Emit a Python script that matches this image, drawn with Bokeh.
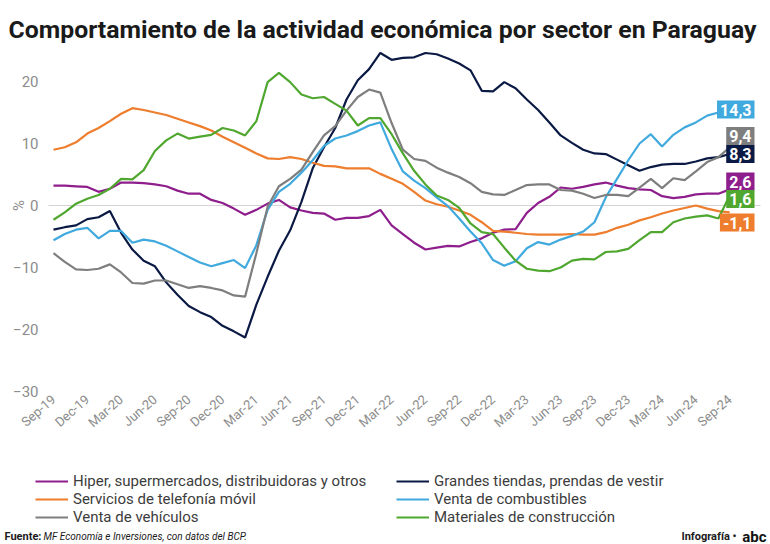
import math
from bokeh.plotting import figure
from bokeh.models import FixedTicker, Label, Legend, LegendItem, Range1d
from bokeh.embed import file_html
from bokeh.resources import INLINE

# ---------------- data (monthly, Sep-19 .. Sep-24) ----------------
tick_labels = ["Sep-19", "Dec-19", "Mar-20", "Jun-20", "Sep-20", "Dec-20", "Mar-21",
               "Jun-21", "Sep-21", "Dec-21", "Mar-22", "Jun-22", "Sep-22", "Dec-22",
               "Mar-23", "Jun-23", "Sep-23", "Dec-23", "Mar-24", "Jun-24", "Sep-24"]

hiper = [3.2, 3.2, 3.1, 3.0, 2.2, 2.7, 3.7, 3.7, 3.6, 3.4, 3.1, 2.4, 1.9, 1.9, 0.9, 0.4,
         -0.5, -1.5, -0.7, 0.3, 0.9, -0.3, -0.8, -1.2, -1.3, -2.3, -2.0, -2.0, -1.7, -0.7,
         -3.2, -4.6, -6.0, -7.1, -6.8, -6.5, -6.6, -5.9, -5.3, -4.4, -3.9, -3.8, -1.2, 0.4,
         1.4, 2.9, 2.7, 3.0, 3.4, 3.7, 3.2, 2.8, 2.6, 2.5, 1.5, 1.2, 1.4, 1.8, 1.9, 1.9, 2.6]

grandes = [-3.9, -3.5, -3.2, -2.2, -1.9, -0.9, -4.4, -7.1, -8.9, -9.8, -12.4, -14.4, -16.2,
           -17.2, -18.0, -19.4, -20.3, -21.3, -16.0, -11.5, -7.3, -4.0, 0.6, 6.0, 9.4, 12.5,
           17.1, 20.2, 22.0, 24.6, 23.5, 23.8, 23.9, 24.6, 24.4, 23.7, 22.9, 21.8, 18.5, 18.4,
           19.9, 18.9, 17.1, 15.4, 13.4, 11.3, 10.1, 9.0, 8.4, 8.3, 7.4, 6.5, 5.6, 6.2, 6.6,
           6.7, 6.7, 7.1, 7.6, 7.8, 8.3]

telefonia = [9.0, 9.4, 10.2, 11.6, 12.5, 13.6, 14.8, 15.7, 15.4, 15.0, 14.6, 14.0, 13.4,
             12.8, 12.1, 11.1, 10.2, 9.3, 8.4, 7.6, 7.5, 7.8, 7.5, 6.9, 6.4, 6.3, 6.0, 6.0,
             6.0, 5.1, 4.3, 3.5, 2.2, 0.8, 0.2, -0.2, -0.8, -1.5, -2.7, -4.1, -4.2, -4.4,
             -4.6, -4.7, -4.7, -4.7, -4.6, -4.7, -4.7, -4.3, -3.6, -3.1, -2.4, -1.9, -1.3,
             -0.8, -0.4, 0.0, -0.5, -0.9, -1.1]

combustibles = [-5.6, -4.6, -3.9, -3.6, -5.3, -4.1, -4.1, -6.0, -5.5, -5.8, -6.5, -7.4, -8.3,
                -9.2, -9.8, -9.3, -8.8, -10.1, -6.4, -0.7, 2.2, 3.5, 5.3, 7.3, 9.6, 10.8, 11.3,
                12.0, 12.9, 13.4, 9.1, 5.5, 4.0, 2.8, 1.3, -0.1, -2.1, -4.2, -6.1, -8.8, -9.7,
                -9.0, -6.9, -5.9, -6.3, -5.5, -4.9, -4.2, -2.7, 1.3, 4.3, 7.3, 10.0, 11.5, 9.5,
                11.4, 12.6, 13.4, 14.5, 15.0, 14.3]

vehiculos = [-7.7, -9.1, -10.3, -10.4, -10.2, -9.5, -10.8, -12.5, -12.6, -12.1, -12.1, -12.7,
             -13.3, -13.0, -13.3, -13.7, -14.5, -14.7, -7.7, -0.2, 3.1, 4.3, 5.8, 8.6, 11.3,
             12.8, 15.3, 17.5, 18.7, 18.2, 13.3, 9.0, 7.5, 7.2, 6.1, 5.3, 4.6, 3.6, 2.2, 1.8,
             1.7, 2.5, 3.3, 3.4, 3.4, 2.5, 2.4, 1.9, 1.2, 1.7, 1.7, 1.5, 2.9, 4.3, 2.8, 4.4,
             4.1, 5.5, 7.0, 7.8, 9.4]

construccion = [-2.3, -1.1, 0.3, 1.1, 1.7, 2.7, 4.3, 4.2, 5.7, 8.8, 10.5, 11.6, 10.8, 11.1,
                11.4, 12.5, 12.1, 11.3, 13.6, 19.9, 21.4, 19.9, 17.9, 17.3, 17.5, 16.4, 15.3,
                12.9, 14.1, 14.1, 11.5, 8.4, 5.6, 3.4, 1.6, 0.9, -0.4, -2.9, -4.3, -4.6, -6.8,
                -8.9, -10.2, -10.5, -10.6, -10.0, -8.9, -8.6, -8.7, -7.5, -7.4, -7.0, -5.6,
                -4.3, -4.3, -2.7, -2.1, -1.8, -1.6, -2.1, 1.6]

series_names = ["Hiper, supermercados, distribuidoras y otros",
                "Grandes tiendas, prendas de vestir",
                "Servicios de telefonía móvil",
                "Venta de combustibles",
                "Venta de vehículos",
                "Materiales de construcción"]
series_values = [hiper, grandes, telefonia, combustibles, vehiculos, construccion]
series_colors = ["#8e1e8c", "#0b1a44", "#ee7d2d", "#40a9de", "#7e7e7e", "#4fa72f"]

end_labels = ["2,6", "8,3", "-1,1", "14,3", "9,4", "1,6"]

y_ticks = [-30, -20, -10, 0, 10, 20]

# ---------------- layout helpers (canvas pixel -> axis units) ----------------
W, H = 770, 544
PX_MONTH, PX_UNIT = 11.27, 6.2
X0_PX, Y0_PX = 53, 205          # pixel of first month / of value 0


def dx(px):
    return (px - X0_PX) / PX_MONTH


def dy(py):
    return (Y0_PX - py) / PX_UNIT


# vertical centre of each end-value box (pixels)
end_label_py = [181, 153.5, 222, 109, 135.5, 198.5]

p = figure(width=W, height=H, output_backend="svg", toolbar_location=None,
           x_range=Range1d(dx(0), dx(W)), y_range=Range1d(dy(H), dy(0)),
           min_border_left=0, min_border_right=0, min_border_top=0, min_border_bottom=0)
p.title.visible = False
p.outline_line_color = None
p.grid.visible = False
p.background_fill_color = "white"
p.border_fill_color = "white"

FONT = "Roboto"

# y axis (drawn at fixed position, labels to its left)
p.yaxis.fixed_location = dx(48)
p.yaxis.ticker = FixedTicker(ticks=y_ticks)
p.yaxis.axis_line_color = None
p.yaxis.major_tick_line_color = None
p.yaxis.minor_tick_line_color = None
p.yaxis.major_tick_out = 0
p.yaxis.major_tick_in = 0
p.yaxis.minor_tick_out = 0
p.yaxis.major_label_standoff = 10
p.yaxis.major_label_text_font = FONT
p.yaxis.major_label_text_font_size = "15px"
p.yaxis.major_label_text_color = "#8c8c8c"

# x axis
tick_pos = [3 * k for k in range(len(tick_labels))]
p.xaxis.fixed_location = dy(395)
p.xaxis.ticker = FixedTicker(ticks=tick_pos)
p.xaxis.major_label_overrides = {t: lab for t, lab in zip(tick_pos, tick_labels)}
p.xaxis.major_label_orientation = 0.72
p.xaxis.axis_line_color = None
p.xaxis.major_tick_line_color = None
p.xaxis.minor_tick_line_color = None
p.xaxis.major_tick_out = 0
p.xaxis.major_tick_in = 0
p.xaxis.minor_tick_out = 0
p.xaxis.major_label_standoff = 2
p.xaxis.major_label_text_font = FONT
p.xaxis.major_label_text_font_size = "13px"
p.xaxis.major_label_text_color = "#8c8c8c"

# zero reference line
zl = p.segment(x0=[dx(48)], y0=[y_ticks[3]], x1=[dx(760)], y1=[y_ticks[3]],
               line_color="#d4d4d4", line_width=1.2)
zl.level = "underlay"

renderers = []
for vals, col in zip(series_values, series_colors):
    xs = list(range(len(vals)))
    r = p.line(xs, vals, line_color=col, line_width=2.2)
    renderers.append(r)

# end value boxes
for txt, py, col in zip(end_labels, end_label_py, series_colors):
    p.add_layout(Label(x=dx(754), y=dy(py), text=txt, text_align="right", text_baseline="middle",
                       text_color="white", text_font=FONT, text_font_style="bold",
                       text_font_size="16px", background_fill_color=col, padding=3))

# "%" axis label
p.add_layout(Label(x=dx(18), y=dy(205), text="%", angle=math.pi / 2, text_align="center",
                   text_baseline="middle", text_font=FONT, text_font_size="15px",
                   text_color="#8c8c8c"))


# legends (two columns)
def make_legend(idx, lx):
    items = [LegendItem(label=series_names[i], renderers=[renderers[i]]) for i in idx]
    leg = Legend(items=items, location=(lx, H - 526), orientation="vertical")
    leg.padding = 0
    leg.margin = 0
    leg.spacing = 0
    leg.glyph_width = 33
    leg.glyph_height = 18
    leg.label_height = 18
    leg.label_standoff = 5
    leg.label_text_font = FONT
    leg.label_text_font_size = "15px"
    leg.label_text_color = "#3c3c3c"
    leg.border_line_color = None
    leg.background_fill_alpha = 0
    return leg


p.add_layout(make_legend([0, 2, 4], 35))
p.add_layout(make_legend([1, 3, 5], 396))

# title
p.add_layout(Label(x=dx(8), y=dy(29),
                   text="Comportamiento de la actividad económica por sector en Paraguay",
                   text_font=FONT, text_font_style="bold", text_font_size="24.8px",
                   text_color="#1a1a1a", text_baseline="alphabetic"))
# footer
FOOT_PY = 536
p.add_layout(Label(x=dx(4), y=dy(FOOT_PY), text="Fuente:", text_font=FONT,
                   text_font_style="bold", text_font_size="11px", text_color="#1a1a1a",
                   text_baseline="alphabetic"))
p.add_layout(Label(x=dx(43), y=dy(FOOT_PY), text="MF Economía e Inversiones, con datos del BCP.",
                   text_font=FONT, text_font_style="italic", text_font_size="10px",
                   text_color="#1a1a1a", text_baseline="alphabetic"))
p.add_layout(Label(x=dx(736), y=dy(FOOT_PY), text="Infografía •", text_font=FONT,
                   text_font_style="bold", text_font_size="11px", text_color="#1a1a1a",
                   text_align="right", text_baseline="alphabetic"))
p.add_layout(Label(x=dx(766), y=dy(FOOT_PY), text="abc", text_font=FONT,
                   text_font_style="bold", text_font_size="15px", text_color="#111111",
                   text_align="right", text_baseline="alphabetic"))

open("out.html", "w").write(file_html(p, INLINE))
